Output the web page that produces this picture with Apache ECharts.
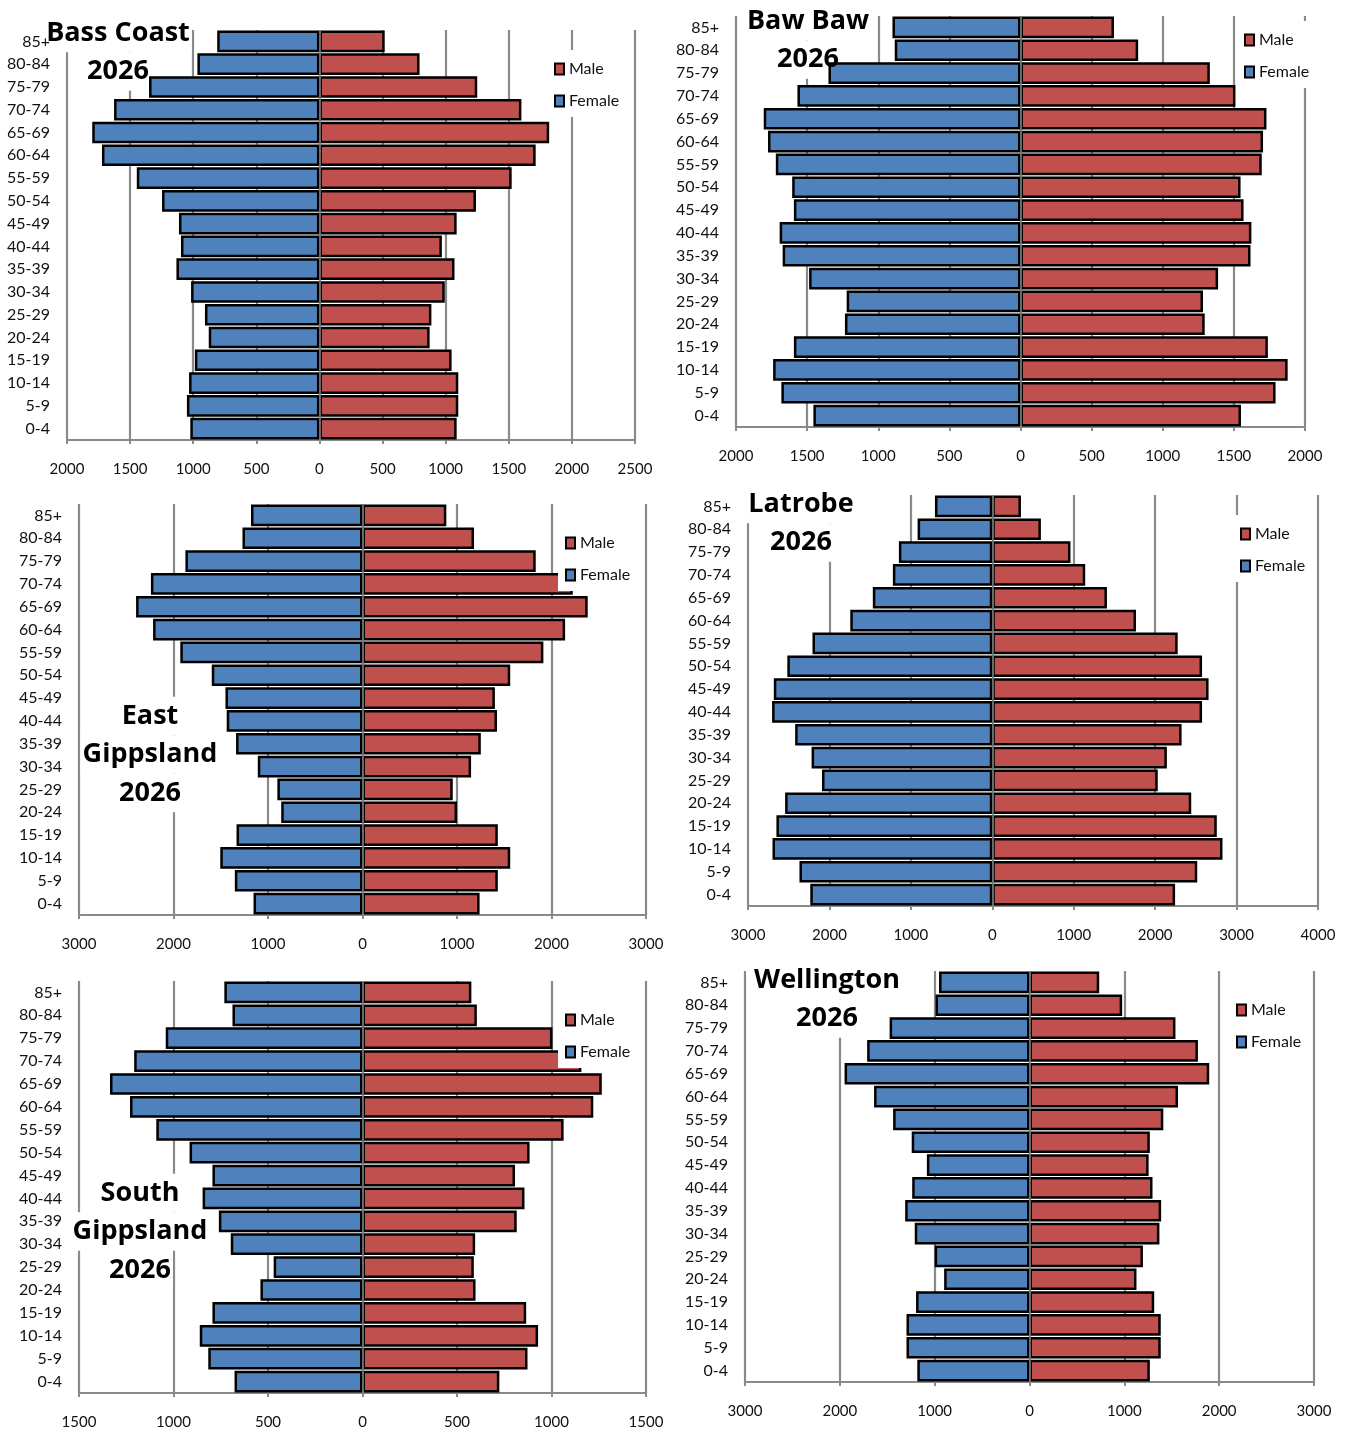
<!DOCTYPE html>
<html>
<head>
<meta charset="utf-8">
<script src="https://cdn.jsdelivr.net/npm/echarts@6/dist/echarts.min.js"></script>
<style>
html,body{margin:0;padding:0;background:#fff;}
#chart{width:1348px;height:1432px;}
</style>
</head>
<body>
<div id="chart"></div>
<script>
// Age groups, bottom (0-4) to top (85+)
const ageGroups = ['0-4','5-9','10-14','15-19','20-24','25-29','30-34','35-39','40-44','45-49','50-54','55-59','60-64','65-69','70-74','75-79','80-84','85+'];

const bassCoastMale   = [1087,1100,1100,1047,873,887,993,1070,970,1087,1240,1523,1713,1820,1600,1250,793,517];
const bassCoastFemale = [1023,1050,1033,987,877,907,1017,1133,1097,1113,1247,1447,1723,1800,1627,1350,967,810];

const bawBawMale   = [1550,1793,1878,1739,1295,1283,1389,1617,1623,1568,1547,1696,1705,1729,1511,1331,827,657];
const bawBawFemale = [1456,1681,1739,1593,1234,1222,1486,1672,1693,1593,1605,1720,1775,1805,1568,1350,884,900];

const eastGippslandMale   = [1239,1432,1563,1432,1000,955,1149,1252,1423,1401,1563,1914,2144,2383,2225,1833,1180,887];
const eastGippslandFemale = [1153,1351,1505,1333,860,901,1108,1338,1437,1450,1595,1928,2216,2396,2239,1874,1270,1180];

const latrobeMale   = [2245,2517,2827,2757,2443,2032,2144,2325,2576,2656,2576,2277,1765,1408,1141,960,597,352];
const latrobeFemale = [2235,2368,2699,2651,2544,2091,2219,2421,2704,2683,2517,2208,1744,1467,1221,1147,917,704];

const southGippslandMale   = [724,873,929,866,598,589,596,816,857,807,884,1064,1221,1266,1158,1005,605,576];
const southGippslandFemale = [677,816,861,794,540,470,697,760,846,794,915,1091,1230,1336,1208,1041,688,731];

const wellingtonMale   = [1269,1384,1384,1315,1128,1196,1370,1388,1297,1256,1269,1411,1566,1895,1776,1539,977,735];
const wellingtonFemale = [1183,1297,1297,1196,900,1000,1210,1311,1237,1082,1242,1438,1639,1950,1712,1475,991,954];

const bassCoastTitle = ['Bass Coast','2026'];
const bawBawTitle = ['Baw Baw','2026'];
const eastGippslandTitle = ['East','Gippsland','2026'];
const latrobeTitle = ['Latrobe','2026'];
const southGippslandTitle = ['South','Gippsland','2026'];
const wellingtonTitle = ['Wellington','2026'];

const seriesNames = ['Male','Female'];

// Layout per panel
const panels = [
  {male:bassCoastMale, female:bassCoastFemale, title:bassCoastTitle, min:-2000, max:2500, interval:500,
   grid:[67,30,568,410], legend:[547,50], titleX:118, titleY:33},
  {male:bawBawMale, female:bawBawFemale, title:bawBawTitle, min:-2000, max:2000, interval:500,
   grid:[736,16,569,411], legend:[1237,21], titleX:808, titleY:21},
  {male:eastGippslandMale, female:eastGippslandFemale, title:eastGippslandTitle, min:-3000, max:3000, interval:1000,
   grid:[79,504,567,411], legend:[558,524], titleX:150, titleY:716},
  {male:latrobeMale, female:latrobeFemale, title:latrobeTitle, min:-3000, max:4000, interval:1000,
   grid:[748,495,570,411], legend:[1233,515], titleX:801, titleY:504},
  {male:southGippslandMale, female:southGippslandFemale, title:southGippslandTitle, min:-1500, max:1500, interval:500,
   grid:[79,981,567,412], legend:[558,1001], titleX:140, titleY:1193},
  {male:wellingtonMale, female:wellingtonFemale, title:wellingtonTitle, min:-3000, max:3000, interval:1000,
   grid:[745,971,569,411], legend:[1229,991], titleX:827, titleY:980}
];

const GRID_COLOR = '#8a8a8a';
const TEXT_COLOR = '#111111';
const FONT = 'Lato, "Open Sans", sans-serif';
const LINE_H = 38.5;

const option = {
  animation: false,
  backgroundColor: '#ffffff',
  textStyle: {fontFamily: FONT},
  grid: panels.map(p => ({left:p.grid[0], top:p.grid[1], width:p.grid[2], height:p.grid[3], containLabel:false, outerBoundsMode:'none'})),
  xAxis: panels.map((p,i) => ({
    type:'value', gridIndex:i, min:p.min, max:p.max, interval:p.interval, z:0,
    axisLine:{show:true, onZero:false, lineStyle:{color:GRID_COLOR, width:2}},
    axisTick:{show:true, length:4, lineStyle:{color:GRID_COLOR, width:2}},
    splitLine:{show:true, showMinLine:true, showMaxLine:true, lineStyle:{color:GRID_COLOR, width:2.2}},
    axisLabel:{formatter: v => String(Math.abs(v)), fontSize:15, color:TEXT_COLOR, margin:22, fontFamily:FONT, showMinLabel:true, showMaxLabel:true}
  })),
  yAxis: panels.map((p,i) => ({
    type:'category', gridIndex:i, data:ageGroups, z:3,
    axisLine:{show:false}, axisTick:{show:false}, splitLine:{show:false},
    axisLabel:{fontSize:16, color:TEXT_COLOR, margin:17, interval:0, fontFamily:FONT, padding:[3,0,0,0]}
  })),
  legend: panels.map(p => ({
    left:p.legend[0], top:p.legend[1], orient:'vertical', data:seriesNames,
    icon:'rect', itemWidth:9, itemHeight:11, itemGap:16,
    backgroundColor:'#ffffff', padding:[11,8,8,7], selectedMode:false,
    itemStyle:{borderColor:'#000000', borderWidth:2},
    textStyle:{fontSize:16, lineHeight:16, color:TEXT_COLOR, fontFamily:FONT}
  })),
  series: panels.flatMap((p,i) => [
    {
      type:'bar', name:'Male', xAxisIndex:i, yAxisIndex:i, data:p.male,
      barGap:'-100%', barCategoryGap:'5%',
      itemStyle:{color:'#C0504D', borderColor:'#000000', borderWidth:2.5}
    },
    {
      type:'bar', name:'Female', xAxisIndex:i, yAxisIndex:i, data:p.female.map(v => -v),
      barGap:'-100%', barCategoryGap:'5%',
      itemStyle:{color:'#4F81BD', borderColor:'#000000', borderWidth:2.5},
      markLine:{silent:true, symbol:['none','none'], label:{show:false}, animation:false,
        lineStyle:{color:'#808080', width:1.6, type:'solid'}, data:[{xAxis:0}]}
    }
  ]),
  graphic: panels.flatMap(p => p.title.flatMap((line, k) => {
    const y = p.titleY + k * LINE_H;
    const font = 'bold 27px "Open Sans", sans-serif';
    return [
      {type:'text', x:p.titleX, y:y, z:1, silent:true,
       style:{text:line, font:font, textAlign:'center', textVerticalAlign:'middle', verticalAlign:'middle',
              fill:'rgba(0,0,0,0)', backgroundColor:'#ffffff', padding:[0,2], lineHeight:LINE_H}},
      {type:'text', x:p.titleX, y:y, z:100, silent:true,
       style:{text:line, font:font, textAlign:'center', textVerticalAlign:'middle', verticalAlign:'middle',
              fill:'#000000', lineHeight:LINE_H}}
    ];
  }))
};

const chart = echarts.init(document.getElementById('chart'), null, {renderer:'canvas'});
chart.setOption(option);
</script>
</body>
</html>
